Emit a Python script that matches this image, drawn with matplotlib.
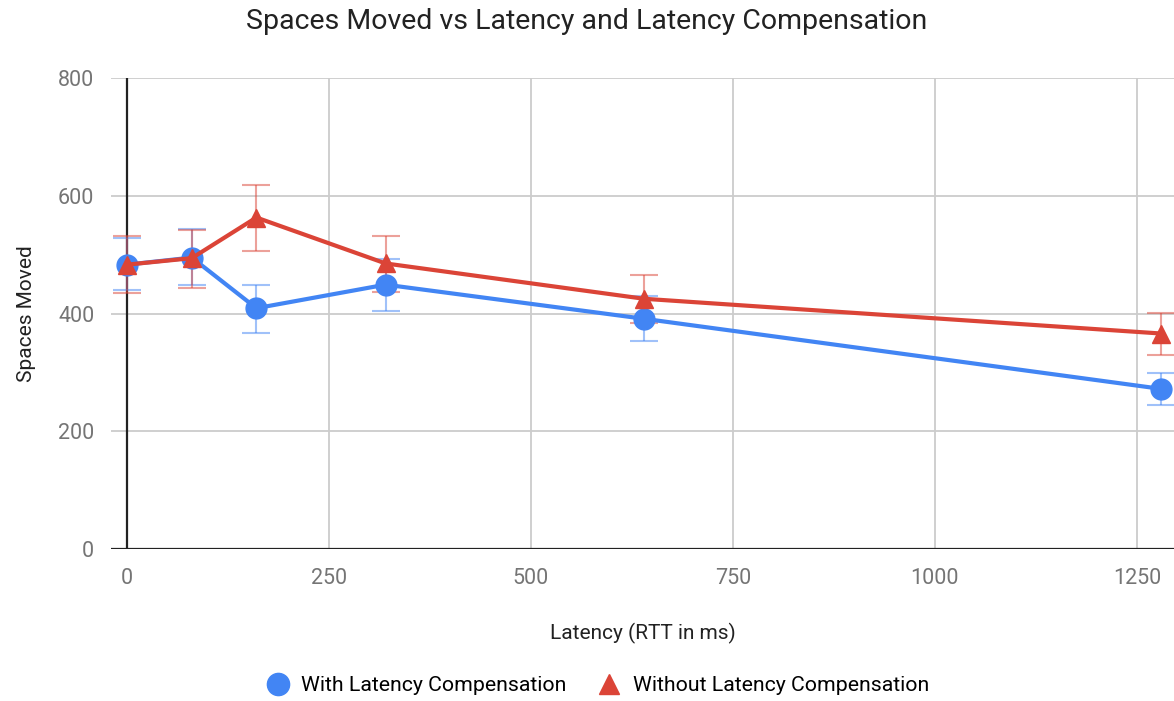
import matplotlib.pyplot as plt
from matplotlib.lines import Line2D

plt.rcParams['font.family'] = ['Roboto', 'DejaVu Sans']

latency = [0, 80, 160, 320, 640, 1280]

with_comp = [483, 495, 409, 449, 391, 272]
with_lo = [440, 448, 367, 404, 353, 244]
with_hi = [528, 544, 449, 493, 430, 299]

without_comp = [483, 494, 563, 485, 425, 366]
without_lo = [434, 444, 507, 437, 384, 329]
without_hi = [531, 541, 619, 532, 466, 401]

blue = '#4285F4'
red = '#DB4437'

fig = plt.figure(figsize=(11.74, 7.01), dpi=100)
ax = fig.add_axes([111 / 1174, 1 - 549 / 701, 1 - 111 / 1174, (549 - 78) / 701])

def draw(vals, lo, hi, color, marker, ms, label):
    yerr = [[v - l for v, l in zip(vals, lo)], [h - v for v, h in zip(vals, hi)]]
    ax.errorbar(latency, vals, yerr=yerr, fmt='none', ecolor=color, alpha=0.5,
                elinewidth=1.5, capsize=10, capthick=1.5, zorder=3)
    ax.plot(latency, vals, color=color, lw=3, marker=marker, ms=ms,
            label=label, zorder=4, clip_on=False)

draw(with_comp, with_lo, with_hi, blue, 'o', 15, 'With Latency Compensation')
draw(without_comp, without_lo, without_hi, red, '^', 13, 'Without Latency Compensation')

ax.set_xlim(-20, 1296)
ax.set_ylim(0, 800)
ax.set_xticks([0, 250, 500, 750, 1000, 1250])
ax.set_yticks([0, 200, 400, 600, 800])
ax.grid(True, color='#cccccc', lw=1.3)
ax.set_axisbelow(True)
for s in ax.spines.values():
    s.set_visible(False)
ax.axvline(0, color='#222222', lw=1.6, zorder=2)
ax.axhline(0, color='#222222', lw=1.6, zorder=2)
ax.tick_params(length=0, labelsize=15.5, colors='#757575', pad=12)
ax.tick_params(axis='x', pad=14)

ax.set_xlabel('Latency (RTT in ms)', fontsize=15, color='#222222', labelpad=24)
ax.set_ylabel('Spaces Moved', fontsize=15, color='#222222', labelpad=16)
fig.text(0.5, 0.97, 'Spaces Moved vs Latency and Latency Compensation',
         ha='center', va='center', fontsize=20.5, color='#222222')

handles = [Line2D([], [], ls='none', marker='o', ms=16, color=blue),
           Line2D([], [], ls='none', marker='^', ms=14, color=red)]
fig.legend(handles, ['With Latency Compensation', 'Without Latency Compensation'],
           loc='center', bbox_to_anchor=(0.505, 0.022), ncol=2, frameon=False,
           fontsize=15.3, handletextpad=0.1, columnspacing=1.0)

fig.savefig('out.png', dpi=100)
